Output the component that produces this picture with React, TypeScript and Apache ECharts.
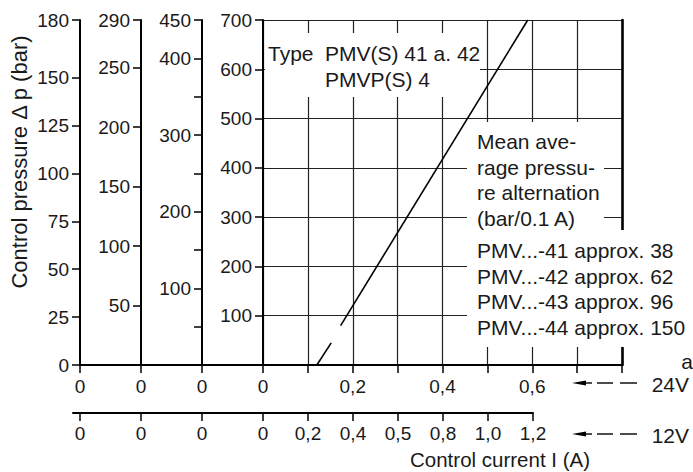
import React, { useEffect, useRef } from "react";
import * as echarts from "echarts";

const FONT = '"Liberation Sans", Arial, Helvetica, sans-serif';
const INK = "#1a1a1a";

// ---- Current scales (A) ----
const current24Min = 0;
const current24Max = 0.8;
const current24Step = 0.1;
const current24Labels = [0, 0.2, 0.4, 0.6];
const auxZeroTicks = [0, 1, 2];
const auxZeroMax = 3;
const current12Labels = ["0", "0,2", "0,4", "0,5", "0,8", "1,0", "1,2"];

// ---- Pressure scales (bar) ----
const p700Max = 700;
const p700Step = 100;
const p450Max = 450;
const p450Ticks = [50, 100, 150, 200, 250, 300, 350, 400, 450];
const p450Labels = [100, 200, 300, 400, 450];
const p290Max = 290;
const p290Labels = [0, 50, 100, 150, 200, 250, 290];
const p290Shown = [50, 100, 150, 200, 250, 290];
const p180Max = 180;
const p180Labels = [0, 25, 50, 75, 100, 125, 150, 180];

// ---- Characteristic (x: current 24V, y: pressure 700 scale) ----
const curveSolid = [
  [0.173, 80],
  [0.59, 700],
];
const curveDashed = [
  [0.12, 0],
  [0.152, 45],
];

// ---- Texts ----
const typeWord = "Type";
const typeLines = ["PMV(S) 41 a. 42", "PMVP(S) 4"];
const meanLines = ["Mean ave-", "rage pressu-", "re alternation", "(bar/0.1 A)"];
const approxLines = [
  "PMV...-41 approx. 38",
  "PMV...-42 approx. 62",
  "PMV...-43 approx. 96",
  "PMV...-44 approx. 150",
];
const yTitle = "Control pressure \u0394 p (bar)";
const xTitle = "Control current I (A)";
const voltages = ["24V", "12V"];

const comma = (v: number) => String(v).replace(".", ",");

const axisLine = { show: true, lineStyle: { color: "#000", width: 2 } };
const axisTick = (extra: any = {}) => ({
  show: true,
  length: 8,
  lineStyle: { color: "#000", width: 1.5 },
  ...extra,
});
const axisLabel = (extra: any = {}) => ({
  color: INK,
  fontFamily: FONT,
  fontSize: 19,
  margin: 11,
  ...extra,
});

function txt(x: number, y: number, text: string, opts: any = {}) {
  const align = opts.align || "left";
  return {
    type: "text",
    x,
    y,
    rotation: opts.rotation || 0,
    z: 30,
    style: {
      text,
      fill: INK,
      fontFamily: FONT,
      fontSize: opts.fontSize || 21,
      align,
      textAlign: align,
      verticalAlign: "middle",
      textVerticalAlign: "middle",
    },
  };
}

function arrow(y: number) {
  const els: any[] = [];
  els.push({
    type: "polygon",
    z: 30,
    shape: { points: [[572, y], [586, y - 2.6], [586, y + 2.6]] },
    style: { fill: "#000" },
  });
  const segs = [
    [585, 592],
    [597, 613],
    [620, 637],
  ];
  segs.forEach(([a, b]) =>
    els.push({
      type: "line",
      z: 30,
      shape: { x1: a, y1: y, x2: b, y2: y },
      style: { stroke: "#000", lineWidth: 1.4 },
    })
  );
  return els;
}

export default function App() {
  const ref = useRef<HTMLDivElement>(null);

  useEffect(() => {
    document.body.style.margin = "0";
    if (!ref.current) return;
    const chart = echarts.init(ref.current, undefined, { renderer: "svg" });

    const graphic: any[] = [
      // white masks behind annotations
      { type: "rect", z: 10, shape: { x: 265, y: 33, width: 215, height: 64 }, style: { fill: "#fff" } },
      { type: "rect", z: 10, shape: { x: 467, y: 122, width: 137, height: 108 }, style: { fill: "#fff" } },
      { type: "rect", z: 10, shape: { x: 467, y: 230, width: 226, height: 117 }, style: { fill: "#fff" } },
      txt(268, 53, typeWord),
      ...typeLines.map((t, i) => txt(325, 53 + i * 26, t)),
      ...meanLines.map((t, i) => txt(477, 141.7 + i * 25.5, t)),
      ...approxLines.map((t, i) => txt(477, 250.5 + i * 25.6, t)),
      txt(687, 361, "a", { align: "center" }),
      txt(689, 384, voltages[0], { align: "right" }),
      txt(689, 435, voltages[1], { align: "right" }),
      ...arrow(383),
      ...arrow(434),
      txt(500, 459, xTitle, { align: "center", fontSize: 20.5 }),
      txt(19, 162, yTitle, { align: "center", rotation: Math.PI / 2, fontSize: 22 }),
    ];

    const option: any = {
      animation: false,
      backgroundColor: "#fff",
      grid: [
        { left: 263, top: 20, width: 359, height: 345 },
        { left: 80, top: 20, width: 183, height: 345 },
        { left: 263, top: 400, width: 270, height: 13 },
        { left: 73, top: 400, width: 190, height: 13 },
      ],
      xAxis: [
        {
          gridIndex: 0,
          type: "value",
          min: current24Min,
          max: current24Max,
          interval: current24Step,
          axisLine,
          axisTick: axisTick(),
          axisLabel: axisLabel({ margin: 12, customValues: current24Labels, formatter: (v: number) => comma(v) }),
          splitLine: { show: true, lineStyle: { color: "#222", width: 1.2 } },
        },
        {
          gridIndex: 1,
          type: "value",
          min: 0,
          max: auxZeroMax,
          axisLine,
          axisTick: axisTick({ customValues: auxZeroTicks }),
          axisLabel: axisLabel({ margin: 12, customValues: auxZeroTicks, formatter: () => "0" }),
          splitLine: { show: false },
        },
        {
          gridIndex: 2,
          type: "category",
          data: current12Labels,
          boundaryGap: false,
          axisLine,
          axisTick: axisTick({ interval: 0 }),
          axisLabel: axisLabel({ interval: 0 }),
          splitLine: { show: false },
        },
        {
          gridIndex: 3,
          type: "value",
          min: -0.115,
          max: auxZeroMax,
          axisLine,
          axisTick: axisTick({ customValues: auxZeroTicks }),
          axisLabel: axisLabel({ customValues: auxZeroTicks, formatter: () => "0" }),
          splitLine: { show: false },
        },
      ],
      yAxis: [
        {
          gridIndex: 0,
          type: "value",
          position: "left",
          min: 0,
          max: p700Max,
          interval: p700Step,
          axisLine,
          axisTick: axisTick(),
          axisLabel: axisLabel({ showMinLabel: false }),
          splitLine: { show: true, lineStyle: { color: "#222", width: 1.2 } },
        },
        {
          gridIndex: 0,
          type: "value",
          position: "left",
          offset: 61,
          min: 0,
          max: p450Max,
          axisLine,
          axisTick: axisTick({ customValues: p450Ticks }),
          axisLabel: axisLabel({ customValues: p450Labels }),
          splitLine: { show: false },
        },
        {
          gridIndex: 0,
          type: "value",
          position: "left",
          offset: 122,
          min: 0,
          max: p290Max,
          axisLine,
          axisTick: axisTick({ customValues: p290Labels }),
          axisLabel: axisLabel({ customValues: p290Shown }),
          splitLine: { show: false },
        },
        {
          gridIndex: 0,
          type: "value",
          position: "left",
          offset: 183,
          min: 0,
          max: p180Max,
          axisLine,
          axisTick: axisTick({ customValues: p180Labels }),
          axisLabel: axisLabel({ customValues: p180Labels }),
          splitLine: { show: false },
        },
        {
          gridIndex: 0,
          type: "value",
          position: "right",
          min: 0,
          max: p700Max,
          axisLine: { show: true, lineStyle: { color: "#000", width: 2.6 } },
          axisTick: { show: false },
          axisLabel: { show: false },
          splitLine: { show: false },
        },
        { gridIndex: 1, type: "value", show: false },
        { gridIndex: 2, type: "value", show: false },
        { gridIndex: 3, type: "value", show: false },
      ],
      graphic,
      series: [
        {
          type: "line",
          xAxisIndex: 0,
          yAxisIndex: 0,
          data: curveSolid,
          symbol: "none",
          z: 20,
          lineStyle: { color: "#000", width: 1.6 },
        },
        {
          type: "line",
          xAxisIndex: 0,
          yAxisIndex: 0,
          data: curveDashed,
          symbol: "none",
          z: 20,
          lineStyle: { color: "#000", width: 1.6 },
        },
      ],
    };

    chart.setOption(option);
    return () => chart.dispose();
  }, []);

  return <div ref={ref} style={{ width: 693, height: 472 }} />;
}
